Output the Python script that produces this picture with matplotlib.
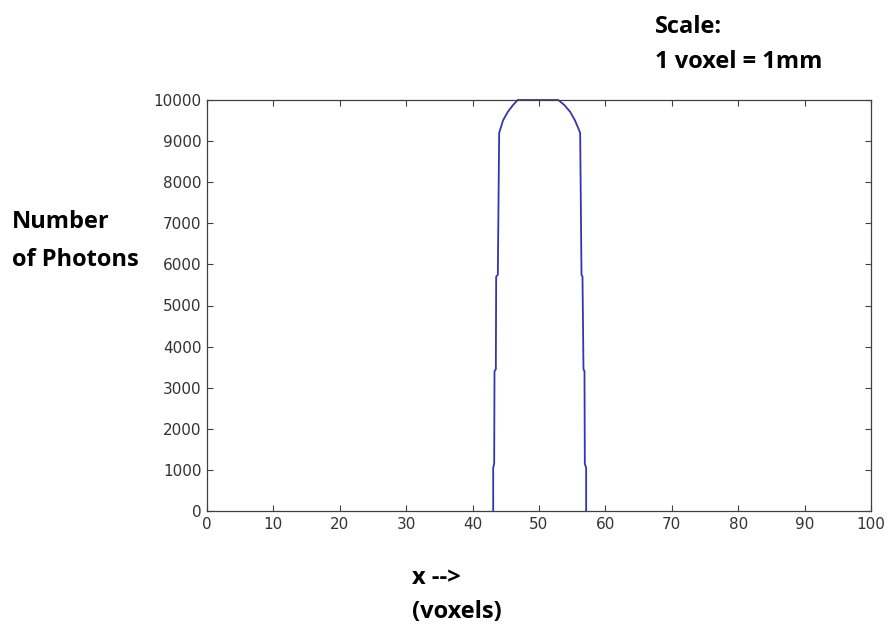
import matplotlib
matplotlib.use("Agg")
import matplotlib.pyplot as plt

# photon profile (x in voxels, y = number of photons)
x_vals = [43.1, 43.1, 43.25, 43.3, 43.5, 43.55, 43.8, 44.0, 44.6, 45.3, 46.1, 46.8,
          50.0,
          52.9, 53.8, 54.7, 55.4, 55.9, 56.2, 56.4, 56.55, 56.7, 56.85, 56.9, 57.1, 57.1]
y_vals = [0, 1050, 1150, 3400, 3450, 5700, 5750, 9200, 9510, 9710, 9880, 10000,
          10000,
          10000, 9880, 9710, 9510, 9320, 9200, 5750, 5700, 3450, 3400, 1150, 1050, 0]

x_ticks = list(range(0, 101, 10))
y_ticks = list(range(0, 10001, 1000))

fig = plt.figure(figsize=(8.92, 6.32), dpi=100)
ax = fig.add_axes([207 / 892, 1 - 511 / 632, (871 - 207) / 892, (511 - 100) / 632])

ax.plot(x_vals, y_vals, color="#3535b0", linewidth=1.3, clip_on=False)

ax.set_xlim(0, 100)
ax.set_ylim(0, 10000)
ax.set_xticks(x_ticks)
ax.set_yticks(y_ticks)
ax.tick_params(direction="in", length=4, width=0.8, color="#404040",
               labelsize=11, labelcolor="#333333", pad=4,
               top=True, right=True)
for t in ax.get_xticklabels() + ax.get_yticklabels():
    t.set_family("DejaVu Sans")
for s in ax.spines.values():
    s.set_color("#404040")
    s.set_linewidth(0.9)

lab = dict(family="Open Sans", fontweight="bold", fontsize=17, color="black",
           ha="left", va="center")
fig.text(655 / 892, 1 - 27 / 632, "Scale:", **lab)
fig.text(655 / 892, 1 - 62 / 632, "1 voxel = 1mm", **lab)
fig.text(12 / 892, 1 - 222 / 632, "Number", **lab)
fig.text(12 / 892, 1 - 260 / 632, "of Photons", **lab)
fig.text(412 / 892, 1 - 578 / 632, "x -->", **lab)
fig.text(412 / 892, 1 - 612 / 632, "(voxels)", **lab)

fig.savefig("out.png", dpi=100)
